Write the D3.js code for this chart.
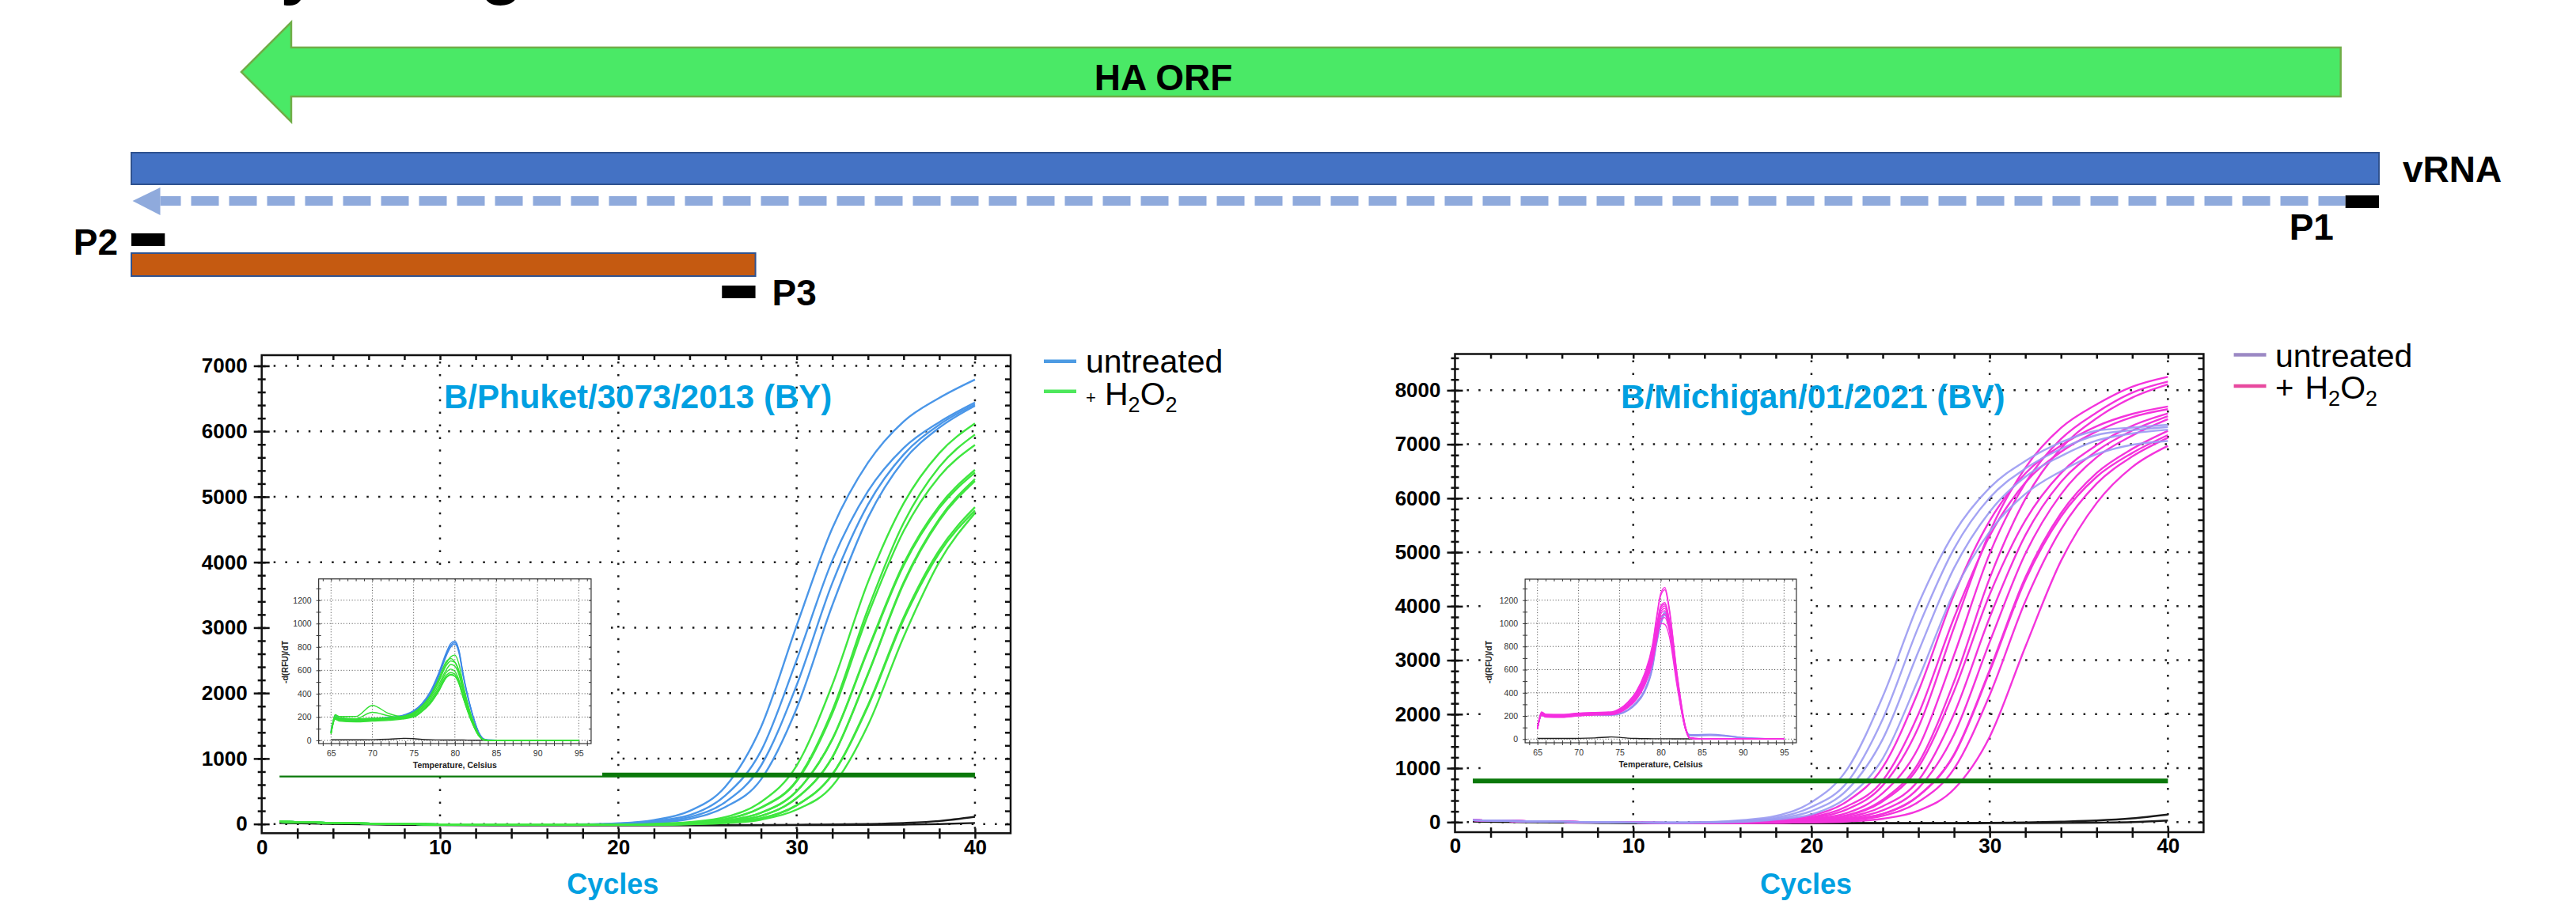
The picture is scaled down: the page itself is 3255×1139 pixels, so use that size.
<!DOCTYPE html>
<html>
<head>
<meta charset="utf-8">
<script src="https://cdn.jsdelivr.net/npm/d3@7"></script>
<style>
  body { margin: 0; background: #fff; }
  svg { display: block; }
  text { font-family: "Liberation Sans", Arial, sans-serif; }
</style>
</head>
<body>
<svg id="fig" width="3255" height="1139"></svg>
<script>
// ---- HA segment schematic, positions in nt along the segment
const segmentLength = 1880
const haOrf = [92, 1848]
const cdnaSpan = [1, 1852]
const ampliconSpan = [0, 522]
const primers = [
  { name: 'P1', span: [1852, 1880] },
  { name: 'P2', span: [0, 28] },
  { name: 'P3', span: [494, 522] }
]

// ---- amplification curves, RFU per cycle
const cycles = [1, 4, 7, 10, 13, 16, 18, 20, 22, 24, 26, 28, 30, 32, 34, 36, 38, 40]
const xTicks = [0, 10, 20, 30, 40]
const phuketYTicks = [0, 1000, 2000, 3000, 4000, 5000, 6000, 7000]
const michiganYTicks = [0, 1000, 2000, 3000, 4000, 5000, 6000, 7000, 8000]

const phuketUntreated = [
  [35, 15, 3, -8, -12, -12, -5, 10, 60, 200, 570, 1480, 3030, 4520, 5520, 6150, 6510, 6790],
  [35, 15, 3, -8, -12, -12, -10, 5, 45, 135, 435, 1115, 2505, 4025, 5085, 5745, 6140, 6440],
  [35, 15, 3, -8, -12, -12, -10, 0, 30, 105, 335, 890, 2120, 3680, 4880, 5645, 6100, 6410],
  [35, 15, 3, -8, -12, -12, -10, -3, 17, 77, 258, 680, 1766, 3341, 4681, 5553, 6055, 6390]
]
const phuketH2O2 = [
  [35, 15, 3, -8, -12, -12, -10, -10, 0, 30, 104, 337, 892, 2127, 3696, 4898, 5666, 6120],
  [35, 15, 3, -8, -12, -12, -10, -10, -3, 16, 76, 253, 668, 1735, 3283, 4600, 5456, 5950],
  [35, 15, 3, -8, -12, -12, -10, -10, -4, 16, 73, 246, 650, 1688, 3195, 4476, 5309, 5790],
  [35, 15, 3, -8, -12, -10, -10, -10, -7, 8, 51, 173, 502, 1299, 2670, 3979, 4862, 5410],
  [35, 15, 3, -8, -12, -10, -10, -10, -7, 8, 50, 171, 498, 1290, 2650, 3949, 4826, 5370],
  [35, 15, 3, -8, -12, -10, -10, -10, -10, 2, 39, 124, 397, 1022, 2296, 3692, 4663, 5270],
  [35, 15, 3, -8, -12, -10, -10, -10, -10, 2, 38, 123, 394, 1016, 2283, 3671, 4636, 5240],
  [35, 15, 3, -8, -12, -10, -10, -10, -10, -1, 24, 87, 287, 760, 1816, 3157, 4184, 4840],
  [35, 15, 3, -8, -12, -10, -10, -10, -10, -2, 24, 86, 284, 752, 1797, 3124, 4141, 4790],
  [35, 15, 3, -8, -12, -10, -10, -10, -10, -4, 13, 65, 219, 581, 1510, 2858, 4005, 4750]
]
const phuketNTC = [
  [20, 5, -5, -15, -18, -18, -18, -18, -18, -17, -16, -15, -12, -8, 0, 15, 45, 110],
  [15, 0, -10, -18, -20, -20, -20, -20, -20, -20, -20, -20, -18, -16, -14, -10, -2, 15]
]
const michiganUntreated = [
  [35, 15, 3, -8, -6, 34, 114, 370, 976, 2326, 4042, 5356, 6195, 6690, 7035, 7250, 7310, 7360],
  [35, 15, 3, -8, -10, 19, 84, 280, 737, 1911, 3615, 5065, 6008, 6550, 6914, 7170, 7260, 7320],
  [35, 15, 3, -8, -10, 12, 62, 206, 595, 1538, 3158, 4706, 5750, 6398, 6780, 7068, 7200, 7270],
  [35, 15, 3, -8, -10, 4, 46, 144, 459, 1180, 2650, 4260, 5380, 6080, 6500, 6815, 6990, 7060]
]
const michiganH2O2 = [
  [35, 15, 3, -8, -12, 1, 36, 119, 386, 1017, 2425, 4214, 5583, 6459, 6976, 7334, 7562, 7700],
  [35, 15, 3, -8, -12, -2, 20, 89, 294, 772, 2001, 3785, 5302, 6289, 6858, 7238, 7503, 7650],
  [35, 15, 3, -8, -12, -6, 15, 72, 237, 680, 1757, 3605, 5372, 6564, 7303, 7739, 8067, 8250],
  [35, 15, 3, -8, -12, -10, 6, 55, 170, 537, 1379, 3095, 4974, 6281, 7098, 7588, 7956, 8160],
  [35, 15, 3, -8, -12, -10, 2, 39, 129, 414, 1092, 2602, 4519, 5988, 6927, 7482, 7865, 8110],
  [35, 15, 3, -8, -12, -10, 1, 36, 120, 386, 1018, 2428, 4218, 5589, 6465, 6983, 7341, 7570],
  [35, 15, 3, -8, -12, -10, -2, 20, 89, 294, 773, 2006, 3793, 5314, 6303, 6873, 7254, 7520],
  [35, 15, 3, -8, -12, -10, -6, 13, 66, 218, 629, 1625, 3336, 4971, 6073, 6758, 7161, 7465],
  [35, 15, 3, -8, -12, -10, -10, 5, 50, 154, 489, 1256, 2819, 4532, 5723, 6468, 6915, 7250],
  [35, 15, 3, -8, -12, -10, -10, 5, 49, 152, 483, 1242, 2788, 4482, 5660, 6397, 6839, 7170],
  [35, 15, 3, -8, -12, -10, -10, 1, 34, 116, 374, 988, 2354, 4091, 5421, 6271, 6773, 7120],
  [35, 15, 3, -8, -12, -10, -10, -6, 12, 64, 212, 612, 1581, 3247, 4838, 5912, 6578, 6970]
]
const michiganNTC = [
  [20, 5, -5, -15, -18, -18, -18, -18, -18, -17, -16, -15, -12, -5, 10, 30, 70, 140],
  [10, 0, -10, -20, -22, -22, -22, -22, -22, -22, -22, -22, -20, -18, -15, -10, 0, 30]
]
const phuketThreshold = 749
const michiganThreshold = 761

// ---- melt curves, -d(RFU)/dT per temperature
const meltTemps = [65, 65.5, 66, 68, 70, 72, 74, 75, 76, 77, 78, 79, 79.5, 80, 80.5, 81, 82, 83, 83.5, 84, 86, 88, 90, 95]
const meltXTicks = [65, 70, 75, 80, 85, 90, 95]
const meltYTicks = [0, 200, 400, 600, 800, 1000, 1200]
const phuketMeltUntreated = [
  [80, 205, 190, 180, 188, 198, 222, 255, 315, 415, 570, 760, 830, 850, 770, 570, 260, 55, 12, 4, 2, 2, 1, 0],
  [75, 195, 182, 175, 182, 193, 216, 248, 305, 400, 555, 745, 815, 838, 760, 560, 255, 52, 10, 3, 2, 1, 1, 0],
  [85, 190, 178, 172, 178, 190, 212, 242, 298, 392, 540, 730, 800, 825, 745, 550, 250, 50, 10, 3, 2, 1, 1, 0]
]
const phuketMeltH2O2 = [
  [70, 215, 195, 185, 190, 195, 212, 240, 295, 380, 510, 665, 715, 730, 650, 480, 210, 40, 6, 2, 1, 1, 0, 0],
  [65, 200, 185, 178, 185, 190, 205, 232, 290, 380, 520, 680, 700, 670, 580, 430, 190, 35, 5, 2, 1, 1, 0, 0],
  [70, 200, 183, 175, 180, 186, 200, 228, 280, 365, 495, 645, 680, 668, 595, 450, 200, 38, 5, 2, 1, 1, 0, 0],
  [60, 190, 175, 168, 175, 182, 196, 222, 272, 350, 470, 610, 650, 635, 560, 420, 190, 35, 5, 2, 1, 1, 0, 0],
  [60, 185, 170, 162, 170, 178, 192, 216, 262, 335, 448, 585, 610, 590, 515, 390, 175, 32, 4, 1, 1, 0, 0, 0],
  [55, 180, 165, 158, 165, 172, 186, 208, 252, 322, 430, 560, 580, 565, 495, 375, 170, 30, 4, 1, 1, 0, 0, 0],
  [65, 220, 205, 205, 300, 230, 200, 210, 250, 318, 420, 545, 565, 550, 485, 365, 165, 30, 4, 1, 1, 0, 0, 0],
  [60, 195, 180, 185, 240, 210, 190, 200, 245, 312, 415, 540, 560, 548, 485, 368, 166, 30, 4, 1, 1, 0, 0, 0]
]
const michiganMeltUntreated = [
  [90, 210, 200, 200, 208, 212, 210, 222, 255, 318, 420, 640, 850, 1020, 1100, 1000, 520, 100, 40, 38, 42, 32, 14, 0],
  [90, 208, 198, 198, 205, 210, 208, 218, 250, 310, 410, 625, 835, 1000, 1090, 990, 510, 95, 34, 32, 36, 28, 12, 0],
  [88, 205, 196, 196, 203, 208, 206, 215, 245, 302, 400, 610, 820, 985, 1070, 975, 500, 92, 28, 27, 30, 24, 10, 0]
]
const michiganMeltH2O2 = [
  [100, 235, 215, 212, 225, 230, 235, 262, 320, 410, 560, 820, 1060, 1260, 1310, 1150, 560, 110, 12, 6, 4, 3, 2, 0],
  [95, 230, 212, 210, 222, 228, 232, 258, 315, 402, 548, 800, 1040, 1240, 1290, 1130, 550, 105, 12, 6, 4, 3, 2, 0],
  [100, 225, 210, 205, 220, 225, 228, 252, 305, 390, 530, 770, 980, 1150, 1180, 1050, 520, 100, 11, 5, 4, 3, 2, 0],
  [95, 220, 205, 200, 215, 222, 225, 248, 300, 382, 520, 760, 970, 1140, 1165, 1040, 515, 98, 11, 5, 4, 3, 2, 0],
  [95, 218, 202, 198, 212, 220, 222, 245, 295, 375, 510, 745, 955, 1120, 1150, 1025, 505, 96, 10, 5, 4, 3, 2, 0],
  [90, 215, 200, 196, 210, 218, 220, 242, 290, 368, 500, 730, 940, 1100, 1130, 1010, 500, 94, 10, 5, 4, 3, 2, 0],
  [90, 212, 198, 194, 208, 215, 218, 240, 285, 360, 490, 715, 925, 1080, 1110, 995, 490, 92, 10, 5, 3, 2, 1, 0],
  [90, 210, 195, 192, 205, 212, 215, 236, 280, 352, 478, 700, 900, 1055, 1080, 970, 480, 90, 10, 5, 3, 2, 1, 0],
  [88, 208, 192, 190, 202, 210, 212, 232, 275, 345, 468, 685, 880, 1030, 1050, 950, 470, 88, 9, 4, 3, 2, 1, 0],
  [85, 205, 190, 188, 200, 208, 210, 228, 270, 338, 455, 660, 850, 1000, 990, 900, 450, 85, 9, 4, 3, 2, 1, 0]
]
const meltNTC = [
  [5, 5, 5, 5, 6, 10, 18, 15, 8, 5, 4, 3, 3, 3, 3, 3, 2, 2, 2, 2, 1, 1, 1, 0]
]
const legendLabels = ['untreated', 'H2O2']

const svg = d3.select('#fig')
const FONT = '"Liberation Sans", Arial, sans-serif'
const plain = d3.format('d')

// ================= schematic =================
const seg = d3.scaleLinear().domain([0, segmentLength]).range([166, 3006])
const schem = svg.append('g')

// cut-off panel heading above the figure
schem.append('text').attr('x', 141.5).attr('y', -12).attr('font-size', 89).attr('font-weight', 'bold').text('Assay design')

// HA ORF arrow (points left)
{
  const x0 = seg(haOrf[0]), x1 = seg(haOrf[1]), cy = 91, head = 63
  const pts = [[x0, cy], [x0 + head, cy - 63], [x0 + head, cy - 31], [x1, cy - 31], [x1, cy + 31], [x0 + head, cy + 31], [x0 + head, cy + 63]]
  schem.append('polygon').attr('points', pts.map(p => p.join(',')).join(' '))
    .attr('fill', '#4ae966').attr('stroke', '#70ad47').attr('stroke-width', 2.5)
  schem.append('text').attr('x', 1470).attr('y', 114).attr('text-anchor', 'middle')
    .attr('font-size', 46).attr('font-weight', 'bold').text('HA ORF')
}

// vRNA bar
schem.append('rect').attr('x', seg(0)).attr('y', 193).attr('width', seg(segmentLength) - seg(0)).attr('height', 40)
  .attr('fill', '#4472c4').attr('stroke', '#2f528f').attr('stroke-width', 2)
schem.append('text').attr('x', 3036).attr('y', 230).attr('font-size', 46).attr('font-weight', 'bold').text('vRNA')

// cDNA dashed arrow
schem.append('line').attr('x1', seg(cdnaSpan[0]) + 35).attr('x2', seg(cdnaSpan[1])).attr('y1', 254).attr('y2', 254)
  .attr('stroke', '#8faadc').attr('stroke-width', 12).attr('stroke-dasharray', '35 13').attr('stroke-dashoffset', 9)
schem.append('polygon')
  .attr('points', [[seg(cdnaSpan[0]), 254], [seg(cdnaSpan[0]) + 35, 237], [seg(cdnaSpan[0]) + 35, 272]].map(p => p.join(',')).join(' '))
  .attr('fill', '#8faadc')

// amplicon bar
schem.append('rect').attr('x', seg(ampliconSpan[0])).attr('y', 320).attr('width', seg(ampliconSpan[1]) - seg(ampliconSpan[0])).attr('height', 29)
  .attr('fill', '#c55a11').attr('stroke', '#2f528f').attr('stroke-width', 2)

// primers
const primerLayout = {
  P1: { y: 247, h: 16, lx: s => s[0] - 71, ly: 303, anchor: 'start' },
  P2: { y: 295, h: 16, lx: s => s[0] - 17, ly: 322, anchor: 'end' },
  P3: { y: 361, h: 16, lx: s => s[1] + 21, ly: 386, anchor: 'start' }
}
schem.selectAll('.primer').data(primers).join('g').each(function (p) {
  const L = primerLayout[p.name], s = p.span.map(seg)
  const gp = d3.select(this)
  gp.append('rect').attr('x', s[0]).attr('y', L.y).attr('width', s[1] - s[0]).attr('height', L.h).attr('fill', '#000')
  gp.append('text').attr('x', L.lx(s)).attr('y', L.ly).attr('text-anchor', L.anchor)
    .attr('font-size', 46).attr('font-weight', 'bold').text(p.name)
})

// ================= amplification charts =================
function styleAxis(sel, w, col) {
  sel.select('.domain').remove()
  sel.selectAll('line').attr('stroke', col).attr('stroke-width', w)
  sel.attr('font-family', FONT)
}

function ampChart(o) {
  const x = d3.scaleLinear().domain([0, 42]).range(o.xRange)
  const y = d3.scaleLinear().domain(o.yDomain).range(o.yRange)
  const yTop = o.yRange[1], yBot = o.yRange[0]
  const g = svg.append('g')
  const line = d3.line().x((d, i) => x(cycles[i])).y(d => y(d)).curve(d3.curveMonotoneX)

  g.append('g').selectAll('line').data(o.yTicks).join('line')
    .attr('x1', x(0) + 15).attr('x2', x(42)).attr('y1', d => y(d)).attr('y2', d => y(d))
    .attr('stroke', '#1a1a1a').attr('stroke-width', 2.5).attr('stroke-dasharray', '2.5 12.2')
  g.append('g').selectAll('line').data(xTicks.filter(d => d > 0)).join('line')
    .attr('x1', d => x(d)).attr('x2', d => x(d)).attr('y1', yTop + 8).attr('y2', yBot)
    .attr('stroke', '#1a1a1a').attr('stroke-width', 2.5).attr('stroke-dasharray', '2.5 13.4')

  const curves = g.append('g').attr('fill', 'none').attr('stroke-width', 2.4)
  o.series.forEach(s => {
    curves.append('g').attr('stroke', s.color).attr('stroke-opacity', s.opacity || 1)
      .selectAll('path').data(s.values).join('path').attr('d', line)
  })

  g.append('line').attr('x1', x(o.thrFrom)).attr('x2', x(40)).attr('y1', y(o.thr)).attr('y2', y(o.thr))
    .attr('stroke', '#0a780a').attr('stroke-width', 6)

  // title
  g.append('text').attr('x', o.titleX).attr('y', 516).attr('font-size', 42).attr('font-weight', 'bold')
    .attr('fill', '#00a0e1').text(o.title)
  g.append('text').attr('x', (x(0) + x(40)) / 2 - 7).attr('y', 1130).attr('text-anchor', 'middle')
    .attr('font-size', 36).attr('font-weight', 'bold').attr('fill', '#00a0e1').text('Cycles')

  o.afterCurves && o.afterCurves(g)

  // frame
  g.append('rect').attr('x', x(0)).attr('y', yTop).attr('width', x(42) - x(0)).attr('height', yBot - yTop)
    .attr('fill', 'none').attr('stroke', '#111').attr('stroke-width', 2.5)

  const ax = (gen, tx, ty) => g.append('g').attr('transform', `translate(${tx},${ty})`).call(gen).call(s => styleAxis(s, 2.5, '#111'))
  const minorY = d3.range(0, o.yMinorMax + 1, 200)
  const minorX = d3.range(2, 41, 2)
  ax(d3.axisLeft(y).tickValues(minorY).tickSize(5).tickFormat(''), x(0), 0)
  ax(d3.axisRight(y).tickValues(minorY).tickSize(5).tickFormat(''), x(0), 0)
  ax(d3.axisRight(y).tickValues(o.yTicks).tickSize(10).tickFormat(''), x(0), 0)
  ax(d3.axisLeft(y).tickValues(o.yTicks).tickSize(10).tickPadding(8).tickFormat(plain), x(0), 0)
    .call(s => s.selectAll('text').attr('font-size', 26).attr('font-weight', 'bold').attr('fill', '#000'))
  ax(d3.axisLeft(y).tickValues(minorY).tickSize(7).tickFormat(''), x(42), 0)
  ax(d3.axisBottom(x).tickValues(minorX).tickSize(6).tickFormat(''), 0, yTop)
  ax(d3.axisTop(x).tickValues(minorX).tickSize(6).tickFormat(''), 0, yBot)
  ax(d3.axisBottom(x).tickValues(minorX).tickSize(7).tickFormat(''), 0, yBot)
  ax(d3.axisBottom(x).tickValues(xTicks).tickSize(0).tickPadding(8).tickFormat(plain), 0, yBot)
    .call(s => s.selectAll('text').attr('font-size', 26).attr('font-weight', 'bold').attr('fill', '#000'))
}

// ================= melt-curve insets =================
function meltInset(o) {
  const x = d3.scaleLinear().domain([65, 95]).range(o.xRange)
  const y = d3.scaleLinear().domain([0, 1200]).range(o.yRange)
  const fx0 = x(63.5), fx1 = x(96.5), fy0 = y(1382), fy1 = y(o.yBottom)
  const g = svg.append('g')
  g.append('rect').attr('x', o.back[0]).attr('y', o.back[1]).attr('width', o.back[2]).attr('height', o.back[3]).attr('fill', '#fff')

  g.append('g').selectAll('line').data(meltXTicks).join('line')
    .attr('x1', d => x(d)).attr('x2', d => x(d)).attr('y1', fy0).attr('y2', fy1)
    .attr('stroke', '#444').attr('stroke-width', 1).attr('stroke-dasharray', '1 2.5')
  g.append('g').selectAll('line').data(meltYTicks).join('line')
    .attr('x1', fx0).attr('x2', fx1).attr('y1', d => y(d)).attr('y2', d => y(d))
    .attr('stroke', '#444').attr('stroke-width', 1).attr('stroke-dasharray', '1 2.5')

  const line = d3.line().x((d, i) => x(meltTemps[i])).y(d => y(d)).curve(d3.curveMonotoneX)
  const cg = g.append('g').attr('fill', 'none').attr('stroke-width', 1.4)
  o.series.forEach(s => {
    cg.append('g').attr('stroke', s.color).attr('stroke-opacity', s.opacity || 1)
      .selectAll('path').data(s.values).join('path').attr('d', line)
  })

  g.append('rect').attr('x', fx0).attr('y', fy0).attr('width', fx1 - fx0).attr('height', fy1 - fy0)
    .attr('fill', 'none').attr('stroke', '#333').attr('stroke-width', 1.2)

  const ax = (gen, tx, ty) => g.append('g').attr('transform', `translate(${tx},${ty})`).call(gen).call(s => styleAxis(s, 1, '#333'))
  const minT = d3.range(64, 97, 1), minV = d3.range(0, 1301, 100)
  ax(d3.axisBottom(x).tickValues(minT).tickSize(3).tickFormat(''), 0, fy1)
  ax(d3.axisTop(x).tickValues(minT).tickSize(3).tickFormat(''), 0, fy1)
  ax(d3.axisBottom(x).tickValues(minT).tickSize(3).tickFormat(''), 0, fy0)
  ax(d3.axisLeft(y).tickValues(minV).tickSize(3).tickFormat(''), fx0, 0)
  ax(d3.axisRight(y).tickValues(minV).tickSize(3).tickFormat(''), fx0, 0)
  ax(d3.axisLeft(y).tickValues(minV).tickSize(3).tickFormat(''), fx1, 0)
  ax(d3.axisBottom(x).tickValues(meltXTicks).tickSize(0).tickPadding(9).tickFormat(plain), 0, fy1)
    .call(s => s.selectAll('text').attr('font-size', 10.5).attr('fill', '#333'))
  ax(d3.axisLeft(y).tickValues(meltYTicks).tickSize(0).tickPadding(9).tickFormat(plain), fx0, 0)
    .call(s => s.selectAll('text').attr('font-size', 10.5).attr('fill', '#333'))

  g.append('text').attr('x', x(80)).attr('y', o.xTitleY).attr('text-anchor', 'middle')
    .attr('font-size', 10.5).attr('font-weight', 'bold').attr('fill', '#222').text('Temperature, Celsius')
  g.append('text').attr('transform', `translate(${o.yTitleX},837) rotate(-90)`).attr('text-anchor', 'middle')
    .attr('font-size', 10.5).attr('font-weight', 'bold').attr('fill', '#222').text('-d(RFU)/dT')
}

// ================= legends =================
function legend(o) {
  const g = svg.append('g')
  o.colors.forEach((c, i) => g.append('line').attr('x1', o.lineX[0]).attr('x2', o.lineX[1])
    .attr('y1', o.lineY[i]).attr('y2', o.lineY[i]).attr('stroke', c).attr('stroke-width', 4.5))
  g.append('text').attr('x', o.textX).attr('y', o.baseY[0]).attr('font-size', 41).text(legendLabels[0])
  g.append('text').attr('x', o.textX).attr('y', o.plusY).attr('font-size', o.plusSize).text('+')
  const t = g.append('text').attr('x', o.hX).attr('y', o.baseY[1]).attr('font-size', 41)
  const lab = legendLabels[1]
  t.append('tspan').text(lab[0])
  t.append('tspan').attr('font-size', 27).attr('dy', 9).text(lab[1])
  t.append('tspan').attr('dy', -9).text(lab[2])
  t.append('tspan').attr('font-size', 27).attr('dy', 9).text(lab[3])
}

// ---- B/Phuket
ampChart({
  xRange: [330.7, 1277], yDomain: [-141, 7163], yRange: [1053.3, 449],
  yTicks: phuketYTicks, yMinorMax: 7000, thr: phuketThreshold, thrFrom: 1,
  title: 'B/Phuket/3073/2013 (BY)', titleX: 561,
  series: [
    { values: phuketNTC, color: '#1a1a1a' },
    { values: phuketUntreated, color: '#4a96e8' },
    { values: phuketH2O2, color: '#3fe63f' }
  ],
  afterCurves: () => meltInset({
    xRange: [418.3, 731.3], yRange: [936, 758.7], yBottom: -27,
    back: [344, 718, 417, 262.5], xTitleY: 971, yTitleX: 364,
    series: [
      { values: meltNTC, color: '#222' },
      { values: phuketMeltUntreated, color: '#3b87e6' },
      { values: phuketMeltH2O2, color: '#35e035' }
    ]
  })
})
legend({
  colors: ['#4d9be3', '#4ee85c'], lineX: [1319, 1360], lineY: [456.7, 494.8],
  textX: 1372, baseY: [471, 511.7], plusY: 510, plusSize: 22, hX: 1396
})

// ---- B/Michigan
ampChart({
  xRange: [1838.5, 2784.4], yDomain: [-186, 8672], yRange: [1052, 447.5],
  yTicks: michiganYTicks, yMinorMax: 8600, thr: michiganThreshold, thrFrom: 1,
  title: 'B/Michigan/01/2021 (BV)', titleX: 2048,
  series: [
    { values: michiganNTC, color: '#1a1a1a' },
    { values: michiganH2O2, color: '#f433dc' },
    { values: michiganUntreated, color: '#9a9af2', opacity: 0.9 }
  ],
  afterCurves: () => meltInset({
    xRange: [1942.7, 2254.3], yRange: [934.3, 758.7], yBottom: -32,
    back: [1874, 722, 411, 253], xTitleY: 970, yTitleX: 1885,
    series: [
      { values: meltNTC, color: '#222' },
      { values: michiganMeltUntreated, color: '#8f8ff0' },
      { values: michiganMeltH2O2, color: '#f52fe0' }
    ]
  })
})
legend({
  colors: ['#9b88c4', '#e84a9f'], lineX: [2822.6, 2863.5], lineY: [448.4, 487.9],
  textX: 2875, baseY: [463.6, 503.5], plusY: 503.5, plusSize: 40, hX: 2912.5
})
</script>
</body>
</html>
